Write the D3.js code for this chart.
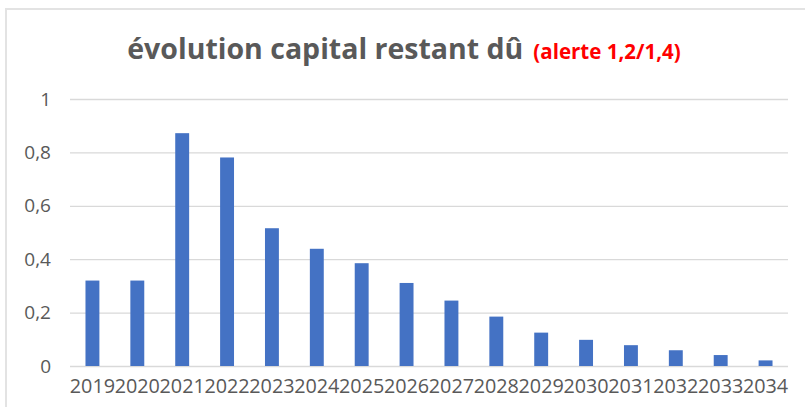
<!DOCTYPE html>
<html><head><meta charset="utf-8">
<script src="https://cdn.jsdelivr.net/npm/d3@7"></script>
<style>body{margin:0;background:#fff;}svg{display:block;}</style>
</head><body>
<svg id="c" width="805" height="407"></svg>
<script>
const years = ["2019","2020","2021","2022","2023","2024","2025","2026","2027","2028","2029","2030","2031","2032","2033","2034"];
const values = [0.32,0.32,0.872,0.781,0.516,0.439,0.385,0.311,0.245,0.185,0.125,0.098,0.078,0.059,0.041,0.021];
const yTicks = [0,0.2,0.4,0.6,0.8,1];
const titleMain = "évolution capital restant dû";
const titleAlert = "(alerte 1,2/1,4)";

const svg = d3.select("#c");
const font = "'Open Sans', sans-serif";
// outer frame
svg.append("rect").attr("x",6).attr("y",9).attr("width",820).attr("height",420)
  .attr("fill","none").attr("stroke","#e3e3e3").attr("stroke-width",2);

const x = d3.scaleBand().domain(years).range([70,788]).paddingInner(0.69).paddingOuter(0.345);
const y = d3.scaleLinear().domain([0,1]).range([366,99]);

const yAxis = d3.axisLeft(y).tickValues(yTicks).tickSize(-(788-70)).tickPadding(19)
  .tickFormat(d => d3.format("~g")(d).replace(".", ","));
const gy = svg.append("g").attr("transform","translate(70,0)").call(yAxis);
gy.select(".domain").remove();
gy.selectAll(".tick line").attr("stroke","#d9d9d9").attr("stroke-width",1.3);
gy.selectAll(".tick text").attr("fill","#595959").attr("font-family",font).attr("font-size",19);

svg.append("g").selectAll("rect").data(values).join("rect")
  .attr("x",(d,i)=>x(years[i])).attr("width",x.bandwidth())
  .attr("y",d=>y(d)).attr("height",d=>y(0)-y(d)).attr("fill","#4472c4");

const xAxis = d3.axisBottom(x).tickSize(0).tickPadding(13);
const gx = svg.append("g").attr("transform","translate(0,366)").call(xAxis);
gx.select(".domain").remove();
gx.selectAll(".tick text").attr("fill","#595959").attr("font-family",font).attr("font-size",19.8);

const t = svg.append("text").attr("x",404).attr("y",59).attr("text-anchor","middle")
  .attr("font-family",font).attr("font-weight","bold");
t.append("tspan").attr("fill","#595959").attr("font-size",28.5).text(titleMain);
t.append("tspan").attr("fill","#ff0000").attr("font-size",20.5).attr("dx",10).text(titleAlert);
</script>
</body></html>
